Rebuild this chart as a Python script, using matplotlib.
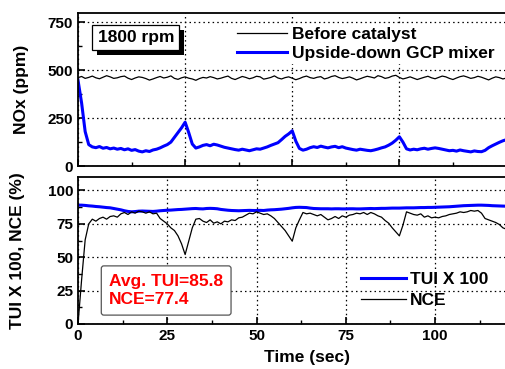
import numpy as np
import matplotlib
matplotlib.use('Agg')
import matplotlib.pyplot as plt
import matplotlib.patches as mpatches
from matplotlib.ticker import MultipleLocator, FixedLocator

plt.rcParams['font.family'] = ['Liberation Sans', 'DejaVu Sans']
plt.rcParams['font.weight'] = 'bold'

# %% Data (1 s samples, 0-128 s).
nox_before = [462, 468, 458, 463, 470, 461, 456, 464, 472, 466,
              458, 461, 467, 470, 459, 452, 460, 466, 463, 457,
              449, 455, 462, 468, 460, 464, 471, 458, 453, 461,
              466, 459, 455, 448, 457, 463, 460, 467, 462, 455,
              459, 465, 470, 458, 452, 460, 468, 463, 456, 461,
              469, 466, 454, 458, 463, 471, 460, 455, 462, 466,
              459, 451, 457, 465, 470, 462, 458, 464, 467, 455,
              460, 468, 472, 463, 457, 461, 466, 459, 450, 456,
              463, 469, 465, 460, 472, 467, 458, 462, 470, 474,
              463, 455, 460, 466, 459, 452, 458, 464, 469, 461,
              456, 463, 470, 466, 458, 452, 460, 467, 471, 465,
              458, 462, 469, 464, 457, 450, 459, 466, 462, 455,
              460, 465, 458, 452, 461, 467, 463, 459, 456]

nox_mixer = [448, 330, 180, 112, 100, 96, 102, 93, 97, 90,
             94, 88, 92, 85, 90, 82, 86, 78, 74, 80,
             76, 84, 88, 95, 104, 112, 125, 150, 175, 200,
             229, 175, 115, 94, 100, 108, 112, 106, 114, 110,
             104, 98, 94, 90, 86, 83, 88, 84, 80, 85,
             90, 88, 94, 100, 108, 115, 122, 138, 155, 168,
             184, 130, 92, 83, 88, 96, 101, 97, 104, 99,
             95, 100, 103, 96, 101, 94, 90, 86, 83, 88,
             85, 82, 80, 84, 89, 95, 100, 109, 120, 135,
             153, 125, 90, 84, 88, 85, 90, 93, 88, 92,
             95, 92, 88, 84, 80, 82, 78, 84, 80, 77,
             74, 79, 76, 75, 82, 96, 106, 115, 124, 132,
             138, 142, 146, 150, 155, 158, 162, 165, 170]

tui_x100 = [89, 89, 88.8, 88.5, 88.3, 88, 87.8, 87.5, 87.2, 87,
            86.5, 86, 85.5, 84.8, 84.3, 84, 84.2, 84.5, 84.6, 84.5,
            84.4, 84.3, 84.5, 84.8, 85, 85.2, 85.3, 85.5, 85.7, 85.8,
            86, 86.2, 86.4, 86.5, 86.3, 86.2, 86.5, 86.6, 86.5, 86.3,
            85.8, 85.5, 85.2, 85, 84.9, 84.8, 84.9, 85, 85.1, 85,
            85, 85.1, 85, 85.3, 85.5, 85.6, 85.8, 86, 86.3, 86.6,
            87, 87.3, 87.4, 87.3, 87.2, 86.8, 86.5, 86.4, 86.3, 86.3,
            86.3, 86.2, 86.3, 86.3, 86.2, 86.2, 86.3, 86.3, 86.2, 86.2,
            86.3, 86.4, 86.5, 86.4, 86.5, 86.6, 86.6, 86.7, 86.8, 86.8,
            86.8, 86.9, 87, 87, 87, 87.1, 87.2, 87.2, 87.3, 87.3,
            87.4, 87.5, 87.6, 87.7, 87.8, 88, 88.2, 88.4, 88.6, 88.7,
            88.8, 88.9, 89, 89, 88.9, 88.8, 88.6, 88.5, 88.4, 88.3,
            88.2, 88.2, 88.1, 88.1, 88, 88, 87.9, 87.9, 87.8]

nce = [0, 33, 63, 75, 78.5, 77, 79, 80, 78.5, 80.5,
       81, 80, 82.5, 83.5, 82, 84, 83, 84.5, 84, 83,
       84, 82.5, 83, 79, 77, 75, 72, 70, 66, 60,
       52, 62, 72, 78.5, 79, 77, 76, 78, 75.5, 76.5,
       75, 77, 76.5, 78, 77.5, 79.5, 80, 81.5, 83, 82.5,
       84, 83, 82, 82.5, 81, 79, 76, 73, 70, 66,
       62, 72, 78, 83.5, 82.5, 83, 82, 81, 82, 80,
       78, 79, 80.5, 79, 81, 80, 81.5, 82, 83, 82.5,
       83.5, 82, 83.5, 82.5, 81, 80, 77.5, 75.5, 72, 69,
       66, 74, 84, 83, 82, 81.5, 82.5, 80, 81, 79.5,
       80, 79.5, 80.5, 81, 82, 82.5, 83, 84, 83.5, 84,
       85, 84.5, 85, 83, 79, 78, 77, 76, 74.5, 72,
       71, 70, 68, 67, 68, 70, 71, 72, 73]

time = np.arange(len(nox_before))

avg_tui = 85.8
avg_nce = 77.4

# %% Figure.
fig = plt.figure(figsize=(5.05, 3.69), dpi=100)
ax_nox = fig.add_axes([0.1545, 0.550, 0.905, 0.415])
ax_eff = fig.add_axes([0.1545, 0.122, 0.905, 0.398])

grid_kw = dict(color='k', linestyle=(0, (1.2, 2.5)), linewidth=0.9)

for axa in [ax_nox, ax_eff]:
    axa.set_xlim(0, 128)
    for sp in axa.spines.values():
        sp.set_linewidth(1.3)
    axa.tick_params(which='both', direction='in', labelsize=11)
    axa.tick_params(which='major', length=5, width=1.2)
    axa.tick_params(which='minor', length=3, width=1)
    axa.grid(True, which='major', **grid_kw)
    axa.set_axisbelow(True)

# NOx panel.
ax_nox.plot(time, nox_before, color='k', linewidth=0.9, label='Before catalyst')
ax_nox.plot(time, nox_mixer, color='#0000ff', linewidth=2.2, label='Upside-down GCP mixer')
ax_nox.set_ylim(0, 800)
ax_nox.yaxis.set_major_locator(MultipleLocator(250))
ax_nox.yaxis.set_minor_locator(MultipleLocator(125))
ax_nox.xaxis.set_major_locator(MultipleLocator(30))
ax_nox.xaxis.set_minor_locator(MultipleLocator(15))
ax_nox.set_xticklabels([])
ax_nox.set_ylabel('NOx (ppm)', fontsize=12.5, fontweight='bold')
ax_nox.yaxis.set_label_coords(-0.108, 0.5)

ax_nox.legend(loc='upper left', bbox_to_anchor=(0.462, 0.918, 0.54, 0.018), bbox_transform=fig.transFigure,
              mode='expand', frameon=True, framealpha=1, edgecolor='none', facecolor='white',
              fontsize=12.5, handlelength=2.9, handletextpad=0.3, labelspacing=0.2,
              borderpad=0.2, borderaxespad=0)

rpm_pad = 0.3
rpm_size = 12.5
rpm = ax_nox.text(0.043, 0.84, '1800 rpm', transform=ax_nox.transAxes, fontsize=rpm_size,
                  fontweight='bold', va='center', ha='left', zorder=6,
                  bbox=dict(boxstyle=f'square,pad={rpm_pad}', facecolor='white', edgecolor='k',
                            linewidth=0.9))

# Efficiency panel.
ax_eff.plot(time, tui_x100, color='#0000ff', linewidth=2.2, label='TUI X 100')
ax_eff.plot(time, nce, color='k', linewidth=0.9, label='NCE')
ax_eff.set_ylim(0, 110)
ax_eff.yaxis.set_major_locator(MultipleLocator(25))
ax_eff.yaxis.set_minor_locator(MultipleLocator(12.5))
ax_eff.xaxis.set_major_locator(FixedLocator([0, 25, 50, 75, 100]))
ax_eff.xaxis.set_minor_locator(MultipleLocator(12.5))
ax_eff.set_ylabel('TUI X 100, NCE (%)', fontsize=12.5, fontweight='bold')
ax_eff.yaxis.set_label_coords(-0.115, 0.5)
ax_eff.set_xlabel('Time (sec)', fontsize=12.5, fontweight='bold', labelpad=5)

ax_eff.legend(loc='upper left', bbox_to_anchor=(0.714, 0.262), bbox_transform=fig.transFigure,
              frameon=False, fontsize=12.5, handlelength=2.6, handletextpad=0.25,
              labelspacing=0.3, borderpad=0, borderaxespad=0)

ax_eff.text(0.068, 0.228, f'Avg. TUI={avg_tui}\nNCE={avg_nce}', transform=ax_eff.transAxes,
            fontsize=12.5, fontweight='bold', color='#ff0000', va='center', ha='left',
            linespacing=1.3,
            bbox=dict(boxstyle='round,pad=0.45,rounding_size=0.15', facecolor='white',
                      edgecolor='#555555', linewidth=0.9))

# Solid drop shadow behind the rpm box, sized from the rendered text plus its pad.
renderer = fig.canvas.get_renderer()
bb = rpm.get_window_extent(renderer)
pad_px = rpm_pad * rpm_size * fig.dpi / 72
shift = 5
shadow = mpatches.Rectangle((bb.x0 - pad_px + shift, bb.y0 - pad_px - shift),
                            bb.width + 2 * pad_px, bb.height + 2 * pad_px,
                            transform=None, facecolor='k', edgecolor='none', zorder=5)
ax_nox.add_artist(shadow)

fig.savefig('out.png', dpi=100)
